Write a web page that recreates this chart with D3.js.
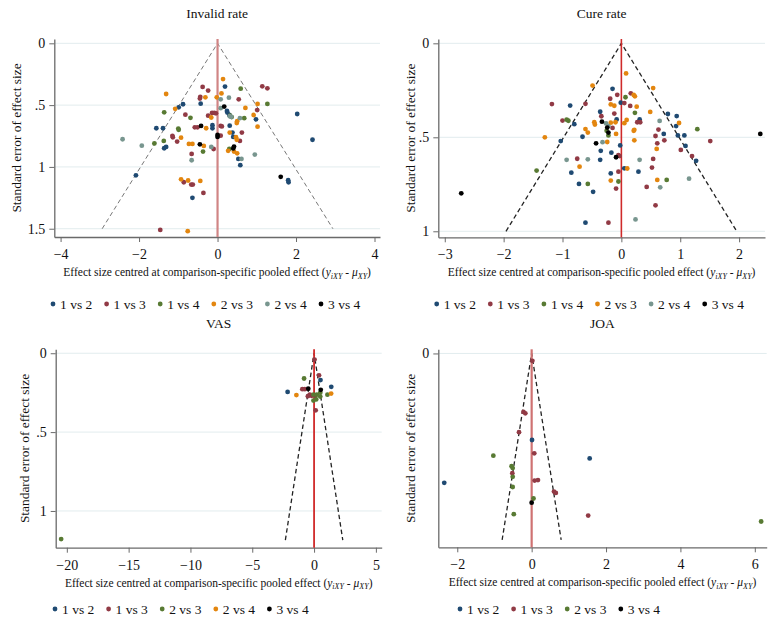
<!DOCTYPE html>
<html lang="en">
<head>
<meta charset="UTF-8">
<title>Funnel plots</title>
<style>
  body { margin: 0; background: #fff; }
  svg text { font-family: "Liberation Serif", "DejaVu Serif", serif; fill: #111; }
</style>
</head>
<body>
<svg id="chart" width="775" height="622"></svg>
<script src="https://cdn.jsdelivr.net/npm/d3@7/dist/d3.min.js"></script>
<script>
// ---- data: [effect centred at pooled effect, standard error] ----
const invalid_1v2 = [[0.19,0.35],[-0.43,0.488],[-0.88,0.493],[-0.99,0.518],[0.24,0.547],[0.25,0.56],[0.30,0.58],[2.03,0.572],[0.98,0.615],[-1.56,0.687],[-1.39,0.687],[-0.13,0.663],[-0.13,0.687],[0.31,0.666],[0.38,0.722],[0.40,0.757],[2.42,0.78],[-1.31,0.838],[-1.36,0.849],[0.53,0.935],[0.58,0.986],[-2.08,1.068],[1.80,1.108],[1.81,1.125],[-0.64,1.25]];
const invalid_1v3 = [[1.14,0.348],[1.27,0.364],[-0.38,0.353],[-0.24,0.382],[-0.44,0.433],[-0.45,0.447],[0.54,0.453],[1.01,0.54],[-0.82,0.577],[-0.14,0.563],[-0.08,0.563],[-0.04,0.566],[-0.24,0.585],[-0.58,0.68],[-0.51,0.68],[0.08,0.668],[0.11,0.672],[0.62,0.722],[0.08,0.747],[-1.15,0.748],[-1.14,0.76],[-1.03,0.795],[0.57,0.79],[-0.10,0.855],[-0.66,0.895],[-0.86,1.124],[-0.67,1.143],[-0.63,1.143],[-0.36,1.21],[-1.46,1.51]];
const invalid_1v4 = [[0.59,0.367],[1.27,0.49],[-1.36,0.558],[0.32,0.585],[0.36,0.597],[0.68,0.606],[-0.69,0.603],[-1.0,0.69],[-0.99,0.70],[-1.37,0.79],[-1.61,0.81],[-0.37,0.876],[0.30,0.855]];
const invalid_2v3 = [[0.14,0.289],[-1.31,0.41],[0.10,0.405],[-0.31,0.437],[-0.02,0.437],[1.02,0.49],[-1.08,0.53],[0.71,0.523],[0.92,0.58],[0.50,0.63],[0.49,0.645],[-0.29,0.687],[1.02,0.674],[0.31,0.722],[-0.93,0.763],[0.47,0.76],[0.49,0.78],[-0.73,0.814],[-0.64,0.814],[-0.35,0.83],[0.27,0.87],[0.42,0.876],[0.50,0.89],[-0.93,1.10],[-0.75,1.11],[-0.44,1.113],[-0.76,1.52],[-0.16,0.60]];
const invalid_2v4 = [[0.08,0.453],[0.29,0.44],[0.08,0.525],[0.31,0.59],[0.57,0.606],[-2.42,0.776],[-1.93,0.828],[-0.16,0.838],[0.95,0.90],[0.61,0.935],[-0.66,0.946],[0.35,0.595]];
const invalid_3v4 = [[0.17,0.512],[-0.42,0.668],[0.0,0.741],[0.0,0.757],[-0.45,0.817],[0.42,0.835],[0.40,0.85],[1.61,1.08]];

const cure_1v2 = [[-0.15,0.242],[-0.87,0.331],[-0.01,0.316],[-0.36,0.364],[0.79,0.376],[0.94,0.387],[-0.80,0.43],[-0.08,0.405],[0.31,0.405],[0.93,0.44],[-1.03,0.52],[-0.66,0.497],[0.72,0.482],[0.96,0.49],[1.07,0.49],[1.09,0.546],[-0.02,0.543],[1.27,0.625],[-0.35,0.572],[-0.17,0.582],[-0.36,0.62],[-0.85,0.688],[0.05,0.665],[-0.18,0.692],[0.29,0.683],[-0.72,0.748],[-0.48,0.79],[-0.61,0.954]];
const cure_1v3 = [[-0.07,0.274],[0.16,0.266],[-1.18,0.323],[-0.61,0.322],[-0.19,0.295],[0.05,0.318],[0.15,0.333],[-0.12,0.374],[-1.0,0.411],[-0.34,0.388],[0.27,0.42],[0.32,0.42],[0.63,0.459],[1.51,0.52],[0.58,0.493],[0.73,0.516],[0.61,0.532],[1.01,0.567],[1.20,0.6],[0.54,0.615],[-0.05,0.595],[-0.03,0.6],[-0.75,0.614],[0.52,0.661],[-0.05,0.683],[0.43,0.764],[-0.09,0.773],[0.58,0.862],[-0.22,0.954],[-0.15,0.45]];
const cure_1v4 = [[0.07,0.287],[0.23,0.37],[-0.93,0.406],[-0.90,0.412],[1.29,0.457],[-0.25,0.465],[-1.44,0.677],[-0.57,0.748],[-0.05,0.735],[0.77,0.727],[-0.22,0.49]];
const cure_2v3 = [[0.08,0.16],[-0.49,0.225],[0.54,0.238],[0.21,0.275],[0.23,0.282],[-0.18,0.325],[-0.12,0.332],[0.26,0.337],[-0.46,0.42],[-0.45,0.432],[0.49,0.365],[0.09,0.408],[0.05,0.425],[-0.18,0.422],[-0.10,0.42],[-0.61,0.456],[-0.57,0.475],[0.98,0.424],[0.22,0.46],[0.21,0.465],[-1.30,0.50],[-0.24,0.525],[-0.09,0.482],[0.22,0.516],[0.60,0.562],[-0.71,0.656],[0.10,0.666],[-0.18,0.73],[0.61,0.727]];
const cure_2v4 = [[-0.26,0.426],[0.65,0.413],[-0.32,0.526],[-0.93,0.62],[-0.57,0.617],[0.31,0.62],[1.15,0.72],[0.66,0.766],[0.24,0.937],[-0.22,0.44]];
const cure_3v4 = [[-0.33,0.417],[-0.24,0.448],[-0.22,0.475],[-0.43,0.532],[-0.09,0.606],[-2.72,0.798],[2.36,0.482]];

const vas_1v2 = [[-2.14,0.245],[0.52,0.17],[1.39,0.213]];
const vas_1v3 = [[0.04,0.04],[0.40,0.14],[-0.95,0.228],[-0.75,0.228],[-0.35,0.262],[-0.20,0.27],[0.13,0.362],[0.10,0.27],[-0.50,0.272]];
const vas_2v3 = [[-0.81,0.16],[-0.05,0.262],[0.22,0.262],[0.50,0.25],[1.08,0.263],[-0.05,0.30],[0.17,0.293],[0.50,0.275],[-20.46,1.178]];
const vas_2v4 = [[-1.43,0.265],[1.38,0.256]];
const vas_3v4 = [[-0.47,0.225],[0.54,0.232]];

const joa_1v2 = [[0.01,0.188],[1.56,0.228],[-2.35,0.281]];
const joa_1v3 = [[0.02,0.016],[-0.22,0.127],[-0.17,0.13],[-0.34,0.171],[0.07,0.217],[-0.52,0.26],[0.08,0.276],[0.17,0.275],[0.60,0.30],[0.65,0.303],[1.52,0.352]];
const joa_2v3 = [[-1.03,0.222],[-0.54,0.245],[-0.51,0.249],[-0.51,0.268],[-0.51,0.29],[0.05,0.315],[-0.48,0.349],[6.17,0.365]];
const joa_3v4 = [[0.0,0.324]];

const titles = ['Invalid rate', 'Cure rate', 'VAS', 'JOA'];
const legend6 = ['1 vs 2', '1 vs 3', '1 vs 4', '2 vs 3', '2 vs 4', '3 vs 4'];
const legendVAS = ['1 vs 2', '1 vs 3', '2 vs 3', '2 vs 4', '3 vs 4'];
const legendJOA = ['1 vs 2', '1 vs 3', '2 vs 3', '3 vs 4'];
const palette = ['#1f4a72', '#913a45', '#587a33', '#e3860f', '#78968f'];
const lastColor = '#000000';

const xTicks = [[-4, -2, 0, 2, 4], [-3, -2, -1, 0, 1, 2], [-20, -15, -10, -5, 0, 5], [-2, 0, 2, 4, 6]];
const yTicks = [[0, 0.5, 1, 1.5], [0, 0.5, 1], [0, 0.5, 1], [0]];
const yTickLabels = [['0', '.5', '1', '1.5'], ['0', '.5', '1'], ['0', '.5', '1'], ['0']];
const funnelMax = [1.5, 1.0, 1.185, 0.405];

// ---- layout ----
const svg = d3.select('#chart');
const fmtNum = d => (d < 0 ? '\u2212' + Math.abs(d) : String(d));

const panels = [
  { series: [invalid_1v2, invalid_1v3, invalid_1v4, invalid_2v3, invalid_2v4, invalid_3v4], names: legend6,
    xDomain: [-4.16, 4.14], yDomain: [-0.035, 1.567], left: 54.3, right: 380, top: 39, bottom: 237,
    ytitleX: 16, legendX: 53, legendY: 304, refColor: '#d08585', refW: 2.2, funnelColor: '#777', funnelW: 1 },
  { series: [cure_1v2, cure_1v3, cure_1v4, cure_2v3, cure_2v4, cure_3v4], names: legend6,
    xDomain: [-3.11, 2.44], yDomain: [-0.023, 1.032], left: 438.3, right: 765, top: 39, bottom: 237.3,
    ytitleX: 410, legendX: 436.7, legendY: 304, refColor: '#cf2a2a', refW: 1.6, funnelColor: '#222', funnelW: 1.3 },
  { series: [vas_1v2, vas_1v3, vas_2v3, vas_2v4, vas_3v4], names: legendVAS,
    xDomain: [-20.9, 5.47], yDomain: [-0.025, 1.233], left: 55.7, right: 381.7, top: 349.3, bottom: 547.7,
    ytitleX: 24, legendX: 55, legendY: 609, refColor: '#d02a2a', refW: 1.8, funnelColor: '#222', funnelW: 1.3 },
  { series: [joa_1v2, joa_1v3, joa_2v3, joa_3v4], names: legendJOA,
    xDomain: [-2.51, 6.32], yDomain: [-0.009, 0.421], left: 438.3, right: 766.7, top: 349.3, bottom: 547.3,
    ytitleX: 410, legendX: 460, legendY: 609, refColor: '#cf7272', refW: 2.2, funnelColor: '#222', funnelW: 1.3 }
];

panels.forEach((p, i) => {
  const x = d3.scaleLinear().domain(p.xDomain).range([p.left, p.right]);
  const y = d3.scaleLinear().domain(p.yDomain).range([p.top, p.bottom]);
  const colors = p.series.map((s, k) => k === p.series.length - 1 ? lastColor : palette[k]);
  const g = svg.append('g');

  // grid
  g.selectAll('line.grid').data(yTicks[i]).enter().append('line')
    .attr('class', 'grid')
    .attr('x1', p.left).attr('x2', p.right)
    .attr('y1', d => y(d)).attr('y2', d => y(d))
    .attr('stroke', '#e2ecee').attr('stroke-width', 1);

  // axes
  const ya = g.append('g').attr('transform', `translate(${p.left},0)`)
    .call(d3.axisLeft(y).tickValues(yTicks[i]).tickFormat((d, k) => yTickLabels[i][k])
      .tickSize(5).tickSizeOuter(0).tickPadding(4));
  const xa = g.append('g').attr('transform', `translate(0,${p.bottom})`)
    .call(d3.axisBottom(x).tickValues(xTicks[i]).tickFormat(fmtNum)
      .tickSize(5).tickSizeOuter(0).tickPadding(7));
  [ya, xa].forEach(a => {
    a.select('.domain').attr('stroke', '#6a6a6a').attr('stroke-width', 1.3);
    a.selectAll('.tick line').attr('stroke', '#6a6a6a');
    a.selectAll('.tick text').attr('font-size', 14).attr('fill', '#111')
      .style('font-family', '"Liberation Serif", "DejaVu Serif", serif');
  });

  // pseudo 95% funnel
  const fm = funnelMax[i];
  g.append('path')
    .datum([[-1.96 * fm, fm], [0, 0], [1.96 * fm, fm]])
    .attr('d', d3.line().x(d => x(d[0])).y(d => y(d[1])))
    .attr('fill', 'none').attr('stroke', p.funnelColor).attr('stroke-width', p.funnelW)
    .attr('stroke-dasharray', '4.5,3');

  // reference line at zero
  g.append('line')
    .attr('x1', x(0)).attr('x2', x(0)).attr('y1', p.top).attr('y2', p.bottom)
    .attr('stroke', p.refColor).attr('stroke-width', p.refW);

  // points
  p.series.forEach((s, k) => {
    g.selectAll(null).data(s).enter().append('circle')
      .attr('cx', d => x(d[0])).attr('cy', d => y(d[1])).attr('r', 2.4)
      .attr('fill', colors[k]);
  });

  // titles
  const cx = (p.left + p.right) / 2;
  g.append('text').attr('x', cx).attr('y', p.top - 21.5).attr('text-anchor', 'middle')
    .attr('font-size', 13.5).text(titles[i]);

  g.append('text')
    .attr('transform', `translate(${p.ytitleX},${(p.top + p.bottom) / 2}) rotate(-90)`)
    .attr('text-anchor', 'middle').attr('dominant-baseline', 'central')
    .attr('font-size', 13.4).text('Standard error of effect size');

  const xt = g.append('text').attr('x', cx).attr('y', p.bottom + 39).attr('text-anchor', 'middle')
    .attr('font-size', 11.5);
  xt.append('tspan').text('Effect size centred at comparison-specific pooled effect (');
  xt.append('tspan').attr('font-style', 'italic').text('y');
  xt.append('tspan').attr('font-style', 'italic').attr('font-size', 8).attr('dy', 2.5).text('iXY');
  xt.append('tspan').attr('dy', -2.5).text(' - ');
  xt.append('tspan').attr('font-style', 'italic').text('\u03bc');
  xt.append('tspan').attr('font-style', 'italic').attr('font-size', 8).attr('dy', 2.5).text('XY');
  xt.append('tspan').attr('dy', -2.5).text(')');

  // legend
  const lg = g.append('g').attr('transform', `translate(${p.legendX},${p.legendY})`);
  p.names.forEach((n, k) => {
    const it = lg.append('g').attr('transform', `translate(${k * 53.6},0)`);
    it.append('circle').attr('r', 2.4).attr('fill', colors[k]);
    it.append('text').attr('x', 7).attr('dy', '0.35em').attr('font-size', 13.5).text(n);
  });
});
</script>
</body>
</html>
